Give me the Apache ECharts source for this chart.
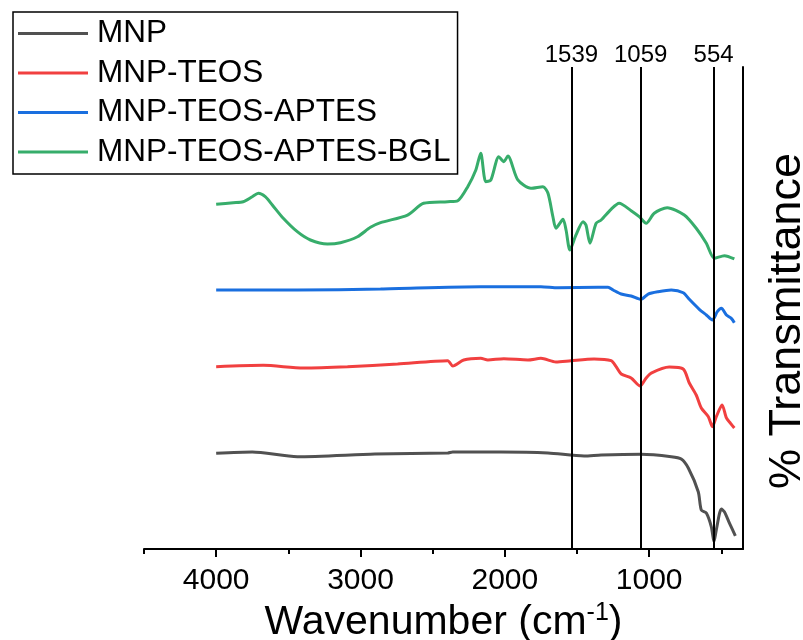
<!DOCTYPE html>
<html>
<head>
<meta charset="utf-8">
<script src="https://cdn.jsdelivr.net/npm/echarts@6/dist/echarts.min.js"></script>
<style>
  html, body { margin: 0; padding: 0; background: #fff; }
  #chart { width: 803px; height: 640px; }
</style>
</head>
<body>
<div id="chart"></div>
<script>
// FTIR spectra, offset in arbitrary units
var seriesNames = ['MNP', 'MNP-TEOS', 'MNP-TEOS-APTES', 'MNP-TEOS-APTES-BGL'];
var seriesColors = ['#515151', '#F14040', '#1A6FDF', '#37AD6B'];

var mnpX = [4000, 3750, 3438, 2900, 2396, 2361, 2028, 1701, 1451, 1333, 1056, 847, 778, 729, 660, 639, 604, 569, 551, 535, 500, 479, 444, 403];
var mnpY = [19.85, 20.12, 19.15, 19.7, 19.92, 20.12, 20.12, 19.92, 19.29, 19.5, 19.65, 19.15, 18.67, 16.8, 11.89, 8.09, 7.47, 4.56, 1.51, 3.94, 8.3, 7.74, 5.39, 2.7];

var teosX = [4000, 3674, 3396, 3090, 2743, 2396, 2361, 2285, 2167, 2118, 2007, 1840, 1750, 1646, 1542, 1382, 1264, 1229, 1194, 1125, 1062, 1021, 986, 861, 764, 722, 674, 639, 590, 562, 535, 495, 465, 438, 410];
var teosY = [37.82, 38.11, 37.55, 37.82, 38.38, 39.07, 37.97, 39.21, 39.56, 39.21, 39.48, 39.21, 39.56, 38.8, 39.07, 39.42, 39.07, 37.82, 36.31, 35.48, 33.82, 35.48, 36.51, 37.76, 37.34, 34.44, 31.95, 29.25, 27.45, 25.37, 27.45, 29.88, 27.18, 26.14, 25.1];

var aptesX = [4000, 3438, 2861, 2167, 1750, 1632, 1354, 1285, 1250, 1194, 1125, 1056, 1007, 938, 847, 764, 722, 653, 604, 562, 528, 500, 465, 431, 410];
var aptesY = [53.73, 53.73, 53.94, 54.42, 54.42, 54.2, 54.29, 54.29, 53.73, 52.9, 52.49, 51.8, 52.9, 53.38, 53.73, 53.17, 51.8, 49.73, 48.55, 47.51, 49.23, 49.94, 48.55, 47.86, 46.95];

var bglX = [4000, 3882, 3813, 3750, 3708, 3660, 3611, 3535, 3438, 3347, 3229, 3139, 3021, 2931, 2861, 2674, 2563, 2396, 2326, 2257, 2201, 2167, 2132, 2097, 2042, 2007, 1979, 1910, 1819, 1736, 1701, 1667, 1646, 1597, 1576, 1549, 1507, 1458, 1438, 1410, 1368, 1333, 1264, 1208, 1125, 1069, 1021, 965, 875, 757, 674, 604, 549, 479, 410];
var bglY = [71.51, 71.85, 72.05, 73.09, 73.8, 73.09, 71.37, 68.61, 65.83, 64.11, 63.28, 63.55, 64.79, 66.74, 67.7, 69.29, 71.72, 72.05, 72.26, 75.17, 78.63, 82.1, 76.2, 76.56, 81.39, 80.35, 81.54, 76.56, 74.83, 75.17, 73.8, 68.94, 66.54, 68.4, 66.18, 62.03, 65.15, 67.9, 67.22, 63.42, 67.57, 68.26, 70.48, 71.72, 70.19, 68.94, 67.57, 69.65, 70.81, 69.29, 66.54, 63.42, 60.31, 60.85, 60.17];

var peakLines = [1539, 1059, 554];
var majorTicks = [4000, 3000, 2000, 1000];
var minorTicks = [4500, 3500, 2500, 1500, 500];

var FONT = 'Liberation Sans, Arial, sans-serif';

function zip(xs, ys) {
  return xs.map(function (x, i) { return [x, ys[i]]; });
}

var allX = [mnpX, teosX, aptesX, bglX];
var allY = [mnpY, teosY, aptesY, bglY];

var series = seriesNames.map(function (name, i) {
  var s = {
    name: name,
    type: 'line',
    data: zip(allX[i], allY[i]),
    showSymbol: false,
    smooth: 0.25,
    color: seriesColors[i],
    lineStyle: { width: 3, color: seriesColors[i] },
    z: 3
  };
  if (i === 0) {
    // vertical marker lines at the labelled bands
    s.markLine = {
      silent: true,
      symbol: 'none',
      lineStyle: { color: '#000', width: 2, type: 'solid' },
      label: {
        show: true,
        position: 'end',
        formatter: '{c}',
        color: '#000',
        fontFamily: FONT,
        fontSize: 24,
        distance: 0
      },
      data: peakLines.map(function (v) { return { xAxis: v }; })
    };
  }
  return s;
});

var myChart = echarts.init(document.getElementById('chart'));
var option = {
  backgroundColor: '#fff',
  animation: false,
  textStyle: { fontFamily: FONT },
  legend: {
    orient: 'vertical',
    left: 13,
    top: 12,
    padding: [5.5, 7, 6, 5],
    itemGap: 7.5,
    itemWidth: 70,
    itemHeight: 3,
    icon: 'rect',
    borderColor: '#000',
    borderWidth: 1.5,
    textStyle: {
      color: '#000',
      fontFamily: FONT,
      fontSize: 31.5,
      lineHeight: 30,
      padding: [0, 0, 0, 4]
    },
    data: seriesNames
  },
  grid: {
    left: 144,
    right: 60,
    top: 67,
    bottom: 91,
    outerBoundsMode: 'none'
  },
  xAxis: [
    {
      type: 'value',
      inverse: true,
      min: 350,
      max: 4500,
      name: '{a|Wavenumber (cm}{s|-1}{a|)}',
      nameLocation: 'middle',
      nameGap: 45,
      nameTextStyle: {
        rich: {
          a: { fontSize: 41, fontFamily: FONT, color: '#000', lineHeight: 44 },
          s: { fontSize: 25, fontFamily: FONT, color: '#000', lineHeight: 26, verticalAlign: 'top' }
        }
      },
      axisLine: { show: true, lineStyle: { color: '#000', width: 2 } },
      axisTick: {
        show: true,
        length: 8,
        lineStyle: { color: '#000', width: 2 },
        customValues: majorTicks
      },
      axisLabel: {
        color: '#000',
        fontFamily: FONT,
        fontSize: 30,
        margin: 17,
        formatter: function (v) { return String(v); },
        customValues: majorTicks
      },
      splitLine: { show: false }
    },
    {
      // minor ticks
      type: 'value',
      inverse: true,
      min: 350,
      max: 4500,
      position: 'bottom',
      axisLine: { show: false },
      axisTick: {
        show: true,
        length: 5,
        lineStyle: { color: '#000', width: 2 },
        customValues: minorTicks
      },
      axisLabel: { show: false },
      splitLine: { show: false }
    }
  ],
  yAxis: {
    type: 'value',
    position: 'right',
    min: 0,
    max: 100,
    name: '% Transmittance',
    nameLocation: 'middle',
    nameRotate: 90,
    nameGap: 22,
    nameTextStyle: { fontSize: 45, fontFamily: FONT, color: '#000', padding: [0, 26, 0, 0] },
    axisLine: { show: true, lineStyle: { color: '#000', width: 2 } },
    axisTick: { show: false },
    axisLabel: { show: false },
    splitLine: { show: false }
  },
  series: series
};
myChart.setOption(option);
</script>
</body>
</html>
